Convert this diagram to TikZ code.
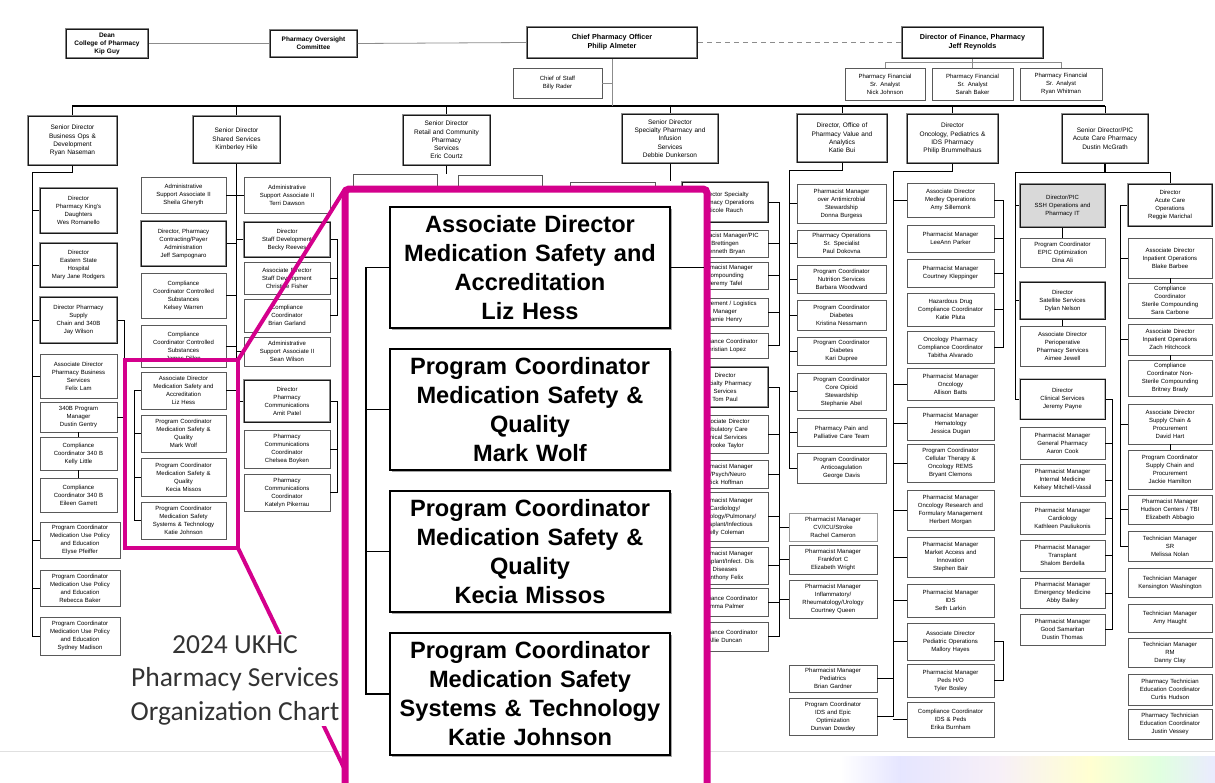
\documentclass[tikz,border=0pt]{standalone}
\usepackage{fontspec}
\setmainfont{Liberation Sans}
\newfontfamily\ttlfont{Carlito}
\usetikzlibrary{shadows}
\definecolor{mag}{RGB}{212,0,140}
\newcommand\orgbox[7][sb]{%
  \pgfmathsetmacro\obw{#5-#3}%
  \pgfmathsetmacro\obh{#6-#4}%
  \pgfmathsetmacro\obtw{#5-#3-3}%
  \pgfmathsetmacro\obcx{(#3+#5)/2}%
  \pgfmathsetmacro\obcy{(#4+#6)/2}%
  \node[#1, minimum width=\obw pt, minimum height=\obh pt, text width=\obtw pt] (#2) at (\obcx,\obcy) {#7};%
}
\newcommand\orgtick[2]{\draw[ln] (#1) -- (#1 -| #2);}
\begin{document}
\begin{tikzpicture}[x=1pt,y=-1pt,
  ln/.style={draw=black, line width=0.6pt},
  gl/.style={draw=black!45, line width=0.8pt},
  sb/.style={draw=black!65, line width=0.6pt, fill=white, general shadow={shadow xshift=1pt, shadow yshift=-1pt, fill=black!28}, inner sep=0pt, align=center, font=\fontsize{6}{8}\selectfont},
  db/.style={sb, draw=black!45, line width=1.8pt, postaction={draw=black!90, line width=0.5pt}},
  lb/.style={sb, draw=black!40},
  l2/.style={db, font=\fontsize{6.5}{8.3}\selectfont},
  tb/.style={sb, draw=black!50, line width=1.4pt, postaction={draw=black!90, line width=0.5pt}, font=\fontsize{6.5}{8}\selectfont\bfseries},
  tbb/.style={tb, line width=2pt, font=\fontsize{7.2}{8.8}\selectfont\bfseries},
  ib/.style={draw=black, line width=1.5pt, fill=white, general shadow={shadow xshift=2.2pt, shadow yshift=-2.2pt, fill=black!35}, inner sep=0pt, align=center, font=\fontsize{23.6}{29}\selectfont\bfseries},
]
\useasboundingbox (0,0) rectangle (1215,782);
\clip (0,0) rectangle (1215,782);
\fill[white] (0,0) rectangle (1215,782);

% bottom decoration
\draw[black!12, line width=1pt] (0,751) -- (1215,751);
\shade[left color=white, right color=blue!10] (840,756) rectangle (900,782);
\shade[left color=blue!10, right color=violet!6] (900,756) rectangle (1000,782);
\shade[left color=violet!6, right color=yellow!18] (1000,756) rectangle (1090,782);
\shade[left color=yellow!18, right color=green!12] (1090,756) rectangle (1160,782);
\shade[left color=green!12, right color=blue!8] (1160,756) rectangle (1215,782);

% ---------- top ----------
\orgbox[tb]{dean}{66}{29}{148}{58}{Dean\\College of Pharmacy\\Kip Guy}
\orgbox[tb]{ovs}{270}{30}{357}{57}{Pharmacy Oversight\\Committee}
\orgbox[tbb]{cpo}{527}{27}{697}{58}{Chief Pharmacy Officer\\Philip Almeter}
\orgbox[tbb]{dfin}{902}{27}{1043}{58}{Director of Finance, Pharmacy\\Jeff Reynolds}
\orgbox{cos}{513}{68}{602}{98}{Chief of Staff\\Billy Rader}
\orgbox{fa1}{845}{68}{925}{100}{Pharmacy Financial\\Sr. Analyst\\Nick Johnson}
\orgbox{fa2}{932}{68}{1013}{100}{Pharmacy Financial\\Sr. Analyst\\Sarah Baker}
\orgbox{fa3}{1020}{68}{1102}{100}{Pharmacy Financial\\Sr. Analyst\\Ryan Whitman}

\draw[gl] (dean.east) -- (ovs.west);
\draw[gl] (ovs.east) -- (cpo.west);
\draw[gl, dashed, dash pattern=on 5pt off 4pt] (cpo.east) -- (dfin.west);
\coordinate (busL) at (72,106);
\coordinate (busR) at (1105,106);
\draw[ln, line width=1.1pt] (busL) -- (busR);
\draw[gl] (cpo.south) -- (cpo.south |- busL);
\draw[gl] (cos.east) -- (cos.east -| cpo.south);
\coordinate (fbus) at (885,62);
\draw[gl] (dfin.south) -- (dfin.south |- fbus);
\draw[gl] (fa1.north) -- (fa1.north |- fbus) -- (fa3.north |- fbus) -- (fa3.north);
\draw[gl] (fa2.north) -- (fa2.north |- fbus);

% ---------- level 2 ----------
\orgbox[l2]{l2a}{28}{116}{117}{165}{Senior Director\\Business Ops \&\\Development\\Ryan Naseman}
\orgbox[l2]{l2b}{193}{116}{280}{163}{Senior Director\\Shared Services\\Kimberley Hile}
\orgbox[l2]{l2c}{403}{115}{490}{165}{Senior Director\\Retail and Community\\Pharmacy\\Services\\Eric Courtz}
\orgbox[l2]{l2d}{622}{114}{718}{163}{Senior Director\\Specialty Pharmacy and\\Infusion\\Services\\Debbie Dunkerson}
\orgbox[l2]{l2e}{797}{114}{887}{162}{Director, Office of\\Pharmacy Value and\\Analytics\\Katie Bui}
\orgbox[l2]{l2f}{907}{114}{998}{163}{Director\\Oncology, Pediatrics \&\\IDS Pharmacy\\Philip Brummelhaus}
\orgbox[l2]{l2g}{1062}{114}{1148}{163}{Senior Director/PIC\\Acute Care Pharmacy\\Dustin McGrath}
\foreach \n in {l2a,l2b,l2c,l2d,l2e,l2f,l2g} {\draw[ln] (\n.north) -- (\n.north |- busL);}

% ---------- column 1 ----------
\orgbox[db]{k1}{40}{188}{117}{233}{Director\\Pharmacy King's\\Daughters\\Wes Romanello}
\orgbox[db]{k2}{40}{243}{117}{287}{Director\\Eastern State\\Hospital\\Mary Jane Rodgers}
\orgbox[db]{k3}{40}{297}{117}{343}{Director Pharmacy\\Supply\\Chain and 340B\\Jay Wilson}
\orgbox{k4}{40}{354}{117}{398}{Associate Director\\Pharmacy Business\\Services\\Felix Lam}
\orgbox{k5}{40}{402}{117}{432}{340B Program\\Manager\\Dustin Gentry}
\orgbox{k6}{40}{437}{117}{470}{Compliance\\Coordinator 340 B\\Kelly Little}
\orgbox{k7}{40}{478}{117}{512}{Compliance\\Coordinator 340 B\\Eileen Garrett}
\orgbox{k8}{40}{522}{120}{558}{Program Coordinator\\Medication Use Policy\\and Education\\Elyse Pfeiffer}
\orgbox{k9}{40}{570}{120}{606}{Program Coordinator\\Medication Use Policy\\and Education\\Rebecca Baker}
\orgbox{k10}{40}{617}{120}{655}{Program Coordinator\\Medication Use Policy\\and Education\\Sydney Madison}
\coordinate (c1t) at (32,172);
\draw[ln] (l2a.south) |- (c1t);
\draw[ln] (c1t) -- (k10.west -| c1t);
\foreach \n in {k1,k2,k3,k4,k8,k9,k10} {\orgtick{\n.west}{c1t}}
\coordinate (c1r) at (124,0);
\draw[ln] (k3.east) -- (k3.east -| c1r) -- (k5.east -| c1r) -- (k5.east);
\draw[ln] (k5.south) -- (k6.north);
\draw[ln] (k6.south) -- (k7.north);

% ---------- column 2 ----------
\orgbox{s1}{141}{177}{226}{213}{Administrative\\Support Associate II\\Sheila Gheryth}
\orgbox[db]{s2}{141}{221}{226}{266}{Director, Pharmacy\\Contracting/Payer\\Administration\\Jeff Sampognaro}
\orgbox{s3}{141}{273}{226}{318}{Compliance\\Coordinator Controlled\\Substances\\Kelsey Warren}
\orgbox{s4}{141}{325}{226}{367}{Compliance\\Coordinator Controlled\\Substances\\James Dillon}
\orgbox{s5}{141}{372}{226}{409}{Associate Director\\Medication Safety and\\Accreditation\\Liz Hess}
\orgbox{s6}{141}{415}{226}{452}{Program Coordinator\\Medication Safety \&\\Quality\\Mark Wolf}
\orgbox{s7}{141}{458}{226}{496}{Program Coordinator\\Medication Safety \&\\Quality\\Kecia Missos}
\orgbox{s8}{141}{502}{226}{539}{Program Coordinator\\Medication Safety\\Systems \& Technology\\Katie Johnson}
\orgbox{r1}{244}{177}{330}{213}{Administrative\\Support Associate II\\Terri Dawson}
\orgbox[db]{r2}{244}{222}{330}{257}{Director\\Staff Development\\Becky Reeves}
\orgbox{r3}{244}{262}{330}{294}{Associate Director\\Staff Development\\Christine Fisher}
\orgbox{r4}{244}{299}{330}{332}{Compliance\\Coordinator\\Brian Garland}
\orgbox{r5}{244}{337}{330}{366}{Administrative\\Support Associate II\\Sean Wilson}
\orgbox[db]{r6}{244}{380}{330}{422}{Director\\Pharmacy\\Communications\\Amit Patel}
\orgbox{r7}{244}{430}{330}{468}{Pharmacy\\Communications\\Coordinator\\Chelsea Boyken}
\orgbox{r8}{244}{474}{330}{511}{Pharmacy\\Communications\\Coordinator\\Katelyn Pikerrau}
\coordinate (c2b) at (236.5,401);
\draw[ln] (l2b.south) -- (c2b);
\foreach \n in {s1,s2,s3,s4,s5} {\orgtick{\n.east}{c2b}}
\foreach \n in {r1,r2,r5,r6} {\orgtick{\n.west}{c2b}}
\coordinate (c2r) at (337,0);
\draw[ln] (r2.east) -- (r2.east -| c2r) -- (r4.east -| c2r) -- (r4.east);
\orgtick{r3.east}{c2r}
\draw[ln] (r6.east) -- (r6.east -| c2r) -- (r8.east -| c2r) -- (r8.east);
\orgtick{r7.east}{c2r}
\coordinate (c2m) at (134,0);
\draw[ln] (s5.west) -- (s5.west -| c2m) -- (s8.west -| c2m) -- (s8.west);
\orgtick{s6.west}{c2m}
\orgtick{s7.west}{c2m}

% ---------- column 3 (mostly hidden) ----------
\orgbox{p1}{353}{174}{437}{215}{Administrative\\Support Associate II}
\orgbox{p2}{458}{175}{542}{215}{}
\orgbox{p3}{570}{182}{655}{222}{}
\draw[ln] (l2c.south) -- (l2c.south |- p1.north);

% ---------- column 4 ----------
\orgbox[db]{b1}{682}{182}{768}{222}{Director Specialty\\Pharmacy Operations\\Nicole Rauch}
\orgbox{b2}{682}{230}{768}{257}{Pharmacist Manager/PIC\\Brettingen\\Kenneth Bryan}
\orgbox{b3}{682}{262}{768}{289}{Pharmacist Manager\\Compounding\\Jeremy Tafel}
\orgbox{b4}{682}{298}{768}{326}{Procurement / Logistics\\Manager\\Jamie Henry}
\orgbox{b5}{682}{333}{768}{358}{Compliance Coordinator\\Christian Lopez}
\orgbox[db]{b6}{682}{367}{768}{407}{Director\\Specialty Pharmacy\\Services\\Tom Paul}
\orgbox{b7}{682}{415}{768}{453}{Associate Director\\Ambulatory Care\\Clinical Services\\Brooke Taylor}
\orgbox{b8}{682}{460}{768}{488}{Pharmacist Manager\\ID/Psych/Neuro\\Rick Hoffman}
\orgbox{b9}{682}{492}{768}{541}{Pharmacist Manager\\Cardiology/\\Nephrology/Pulmonary/\\Transplant/Infectious\\Kelly Coleman}
\orgbox{b10}{682}{547}{768}{584}{Pharmacist Manager\\Transplant/Infect. Dis\\Diseases\\Anthony Felix}
\orgbox{b11}{682}{588}{768}{616}{Compliance Coordinator\\Emma Palmer}
\orgbox{b12}{682}{622}{768}{651}{Compliance Coordinator\\Allie Duncan}
\draw[ln] (l2d.south) -- (l2d.south |- b1.north);
\coordinate (c4r) at (779,0);
\draw[ln] (b1.east) -- (b1.east -| c4r) -- (b5.east -| c4r) -- (b5.east);
\foreach \n in {b2,b3,b4} {\orgtick{\n.east}{c4r}}
\draw[ln] (b6.east) -- (b6.east -| c4r) -- (b12.east -| c4r) -- (b12.east);
\foreach \n in {b7,b8,b9,b10,b11} {\orgtick{\n.east}{c4r}}

% ---------- column 5 ----------
\orgbox{c1}{797}{184}{886}{223}{Pharmacist Manager\\over Antimicrobial\\Stewardship\\Donna Burgess}
\orgbox{c2}{797}{230}{886}{257}{Pharmacy Operations\\Sr. Specialist\\Paul Dokovna}
\orgbox{c3}{797}{265}{886}{293}{Program Coordinator\\Nutrition Services\\Barbara Woodward}
\orgbox{c4}{797}{300}{886}{330}{Program Coordinator\\Diabetes\\Kristina Nessmann}
\orgbox{c5}{797}{337}{886}{365}{Program Coordinator\\Diabetes\\Kari Dupree}
\orgbox{c6}{797}{373}{886}{410}{Program Coordinator\\Core Opioid\\Stewardship\\Stephanie Abel}
\orgbox{c7}{797}{418}{886}{446}{Pharmacy Pain and\\Palliative Care Team}
\orgbox{c8}{797}{453}{886}{483}{Program Coordinator\\Anticoagulation\\George Davis}
\orgbox[lb]{d1}{789}{513}{877}{541}{Pharmacist Manager\\CV/ICU/Stroke\\Rachel Cameron}
\orgbox{d2}{789}{545}{877}{574}{Pharmacist Manager\\Frankfort C\\Elizabeth Wright}
\orgbox{d3}{789}{580}{877}{618}{Pharmacist Manager\\Inflammatory/\\Rheumatology/Urology\\Courtney Queen}
\orgbox{d4}{789}{665}{877}{692}{Pharmacist Manager\\Pediatrics\\Brian Gardner}
\orgbox{d5}{789}{698}{877}{735}{Program Coordinator\\IDS and Epic\\Optimization\\Dunvan Dowdey}
\coordinate (c5t) at (789,170);
\draw[ln] (l2e.south) |- (c5t);
\draw[ln] (c5t) -- (c8.west -| c5t);
\foreach \n in {c1,c2,c3,c4,c5,c6,c7,c8} {\orgtick{\n.west}{c5t}}
\foreach \n in {d1,d2,d3} {\orgtick{\n.west}{c4r}}

% ---------- column 6 ----------
\orgbox{e1}{907}{183}{994}{217}{Associate Director\\Medley Operations\\Amy Sillemonk}
\orgbox{e2}{907}{225}{994}{252}{Pharmacist Manager\\LeeAnn Parker}
\orgbox{e3}{907}{259}{994}{287}{Pharmacist Manager\\Courtney Kleppinger}
\orgbox{e4}{907}{293}{994}{326}{Hazardous Drug\\Compliance Coordinator\\Katie Pluta}
\orgbox{e5}{907}{331}{994}{363}{Oncology Pharmacy\\Compliance Coordinator\\Tabitha Alvarado}
\orgbox{e6}{907}{368}{994}{400}{Pharmacist Manager\\Oncology\\Allison Batts}
\orgbox{e7}{907}{407}{994}{440}{Pharmacist Manager\\Hematology\\Jessica Dugan}
\orgbox{e8}{907}{444}{994}{482}{Program Coordinator\\Cellular Therapy \&\\Oncology REMS\\Bryant Clemons}
\orgbox{e9}{907}{490}{994}{530}{Pharmacist Manager\\Oncology Research and\\Formulary Management\\Herbert Morgan}
\orgbox{e10}{907}{537}{994}{577}{Pharmacist Manager\\Market Access and\\Innovation\\Stephen Bair}
\orgbox{e11}{907}{584}{994}{617}{Pharmacist Manager\\IDS\\Seth Larkin}
\orgbox{e12}{907}{623}{994}{660}{Associate Director\\Pediatric Operations\\Mallory Hayes}
\orgbox{e13}{907}{664}{994}{697}{Pharmacist Manager\\Peds H/O\\Tyler Bosley}
\orgbox{e14}{907}{702}{994}{737}{Compliance Coordinator\\IDS \& Peds\\Erika Burnham}
\coordinate (c6t) at (893,171);
\draw[ln] (l2f.south) |- (c6t);
\draw[ln] (c6t) -- (d5.east -| c6t);
\foreach \n in {e1,e6,e7,e8,e9,e10,e11,e12,e14} {\orgtick{\n.west}{c6t}}
\orgtick{d4.east}{c6t}
\orgtick{d5.east}{c6t}
\coordinate (c6r) at (1003,0);
\draw[ln] (e1.east) -- (e1.east -| c6r) -- (e5.east -| c6r) -- (e5.east);
\foreach \n in {e2,e3,e4} {\orgtick{\n.east}{c6r}}
\draw[ln] (e12.east) -- (e12.east -| c6r) -- (e13.east -| c6r) -- (e13.east);

% ---------- column 7 ----------
\orgbox[db, fill=black!15]{f1}{1020}{184}{1105}{227}{Director/PIC\\SSH Operations and\\Pharmacy IT}
\orgbox{f2}{1020}{238}{1105}{267}{Program Coordinator\\EPIC Optimization\\Dina Ali}
\orgbox[db]{f3}{1020}{282}{1105}{319}{Director\\Satellite Services\\Dylan Nelson}
\orgbox{f4}{1020}{326}{1105}{366}{Associate Director\\Perioperative\\Pharmacy Services\\Aimee Jewell}
\orgbox[db, draw=black!25]{f5}{1020}{379}{1105}{419}{Director\\Clinical Services\\Jeremy Payne}
\orgbox{f6}{1020}{427}{1105}{459}{Pharmacist Manager\\General Pharmacy\\Aaron Cook}
\orgbox{f7}{1020}{464}{1105}{496}{Pharmacist Manager\\Internal Medicine\\Kelsey Mitchell-Vassil}
\orgbox{f8}{1020}{502}{1105}{534}{Pharmacist Manager\\Cardiology\\Kathleen Pauliukonis}
\orgbox{f9}{1020}{540}{1105}{571}{Pharmacist Manager\\Transplant\\Shalom Berdella}
\orgbox{f10}{1020}{578}{1105}{608}{Pharmacist Manager\\Emergency Medicine\\Abby Bailey}
\orgbox{f11}{1020}{614}{1105}{645}{Pharmacist Manager\\Good Samaritan\\Dustin Thomas}
\orgbox[db]{g1}{1128}{184}{1212}{226}{Director\\Acute Care\\Operations\\Reggie Marichal}
\orgbox{g2}{1128}{238}{1212}{278}{Associate Director\\Inpatient Operations\\Blake Barbee}
\orgbox{g3}{1128}{283}{1212}{318}{Compliance\\Coordinator\\Sterile Compounding\\Sara Carbone}
\orgbox{g4}{1128}{324}{1212}{355}{Associate Director\\Inpatient Operations\\Zach Hitchcock}
\orgbox{g5}{1128}{360}{1212}{396}{Compliance\\Coordinator Non-\\Sterile Compounding\\Britney Brady}
\orgbox{g6}{1128}{404}{1212}{444}{Associate Director\\Supply Chain \&\\Procurement\\David Hart}
\orgbox{g7}{1128}{450}{1212}{489}{Program Coordinator\\Supply Chain and\\Procurement\\Jackie Hamilton}
\orgbox{g8}{1128}{495}{1212}{524}{Pharmacist Manager\\Hudson Centers / TBI\\Elizabeth Abbagio}
\orgbox{g9}{1128}{531}{1212}{561}{Technician Manager\\SR\\Melissa Nolan}
\orgbox{g10}{1128}{568}{1212}{597}{Technician Manager\\Kensington Washington}
\orgbox{g11}{1128}{604}{1212}{632}{Technician Manager\\Amy Haught}
\orgbox{g12}{1128}{638}{1212}{667}{Technician Manager\\RM\\Danny Clay}
\orgbox{g13}{1128}{674}{1212}{705}{Pharmacy Technician\\Education Coordinator\\Curtis Hudson}
\orgbox{g14}{1128}{709}{1212}{739}{Pharmacy Technician\\Education Coordinator\\Justin Vessey}
\coordinate (c7L) at (1015,172);
\coordinate (c7R) at (1170,172);
\draw[ln, line width=1.4pt] (l2g.south) -- (l2g.south |- c7L);
\draw[ln] (c7L) -- (c7R) -- (g1.north);
\draw[ln] (c7L) -- (f5.west -| c7L);
\foreach \n in {f1,f3,f5} {\orgtick{\n.west}{c7L}}
\draw[ln] (f1.south) -- (f2.north);
\draw[ln] (f3.south) -- (f4.north);
\coordinate (c7c) at (1112,0);
\draw[ln] (f5.east) -- (f5.east -| c7c) -- (f11.east -| c7c) -- (f11.east);
\foreach \n in {f6,f7,f8,f9,f10} {\orgtick{\n.east}{c7c}}
\coordinate (c7g) at (1120,0);
\draw[ln] (g1.west) -- (g1.west -| c7g) -- (g9.west -| c7g) -- (g9.west);
\foreach \n in {g2,g4,g6,g8} {\orgtick{\n.west}{c7g}}
\draw[ln] (g2.south) -- (g3.north);
\draw[ln] (g4.south) -- (g5.north);
\draw[ln] (g6.south) -- (g7.north);

% ---------- magnifier ----------
\coordinate (sTL) at (125,360);
\coordinate (sTR) at (238,360);
\coordinate (sBR) at (238,548);
\coordinate (iTL) at (345,189);
\coordinate (iBL) at (345,770);
\coordinate (iBR) at (707,800);
\draw[mag, line width=4.5pt] (sTL) rectangle (sBR);
\draw[mag, line width=4pt] (sTR) -- (iTL);
\draw[mag, line width=4pt] (sBR) -- (iBL);

% ---------- title ----------
\node[font=\ttlfont\fontsize{27.5}{33.5}\selectfont, text=black!80, align=center, fill=white, inner sep=1pt] (ttl) at (235,680) {2024 UKHC\\Pharmacy Services\\Organization Chart};

\draw[mag, line width=7pt, fill=white, rounded corners=4pt] (iTL) rectangle (iBR);

\orgbox[ib]{i1}{390}{207}{670}{328}{Associate Director\\Medication Safety and\\Accreditation\\Liz Hess}
\orgbox[ib]{i2}{390}{349}{670}{470}{Program Coordinator\\Medication Safety \&\\Quality\\Mark Wolf}
\orgbox[ib]{i3}{390}{491}{670}{612}{Program Coordinator\\Medication Safety \&\\Quality\\Kecia Missos}
\orgbox[ib]{i4}{390}{633}{670}{755}{Program Coordinator\\Medication Safety\\Systems \& Technology\\Katie Johnson}
\coordinate (iL) at (366,0);
\coordinate (iR) at (704,267.5);
\draw[ln, line width=1.5pt] (i1.west) -- (i1.west -| iL) -- (i4.west -| iL) -- (i4.west);
\draw[ln, line width=1.5pt] (i2.west) -- (i2.west -| iL);
\draw[ln, line width=1.5pt] (i3.west) -- (i3.west -| iL);
\draw[ln, line width=1.5pt] (i1.east) -- (iR);
\end{tikzpicture}
\end{document}
